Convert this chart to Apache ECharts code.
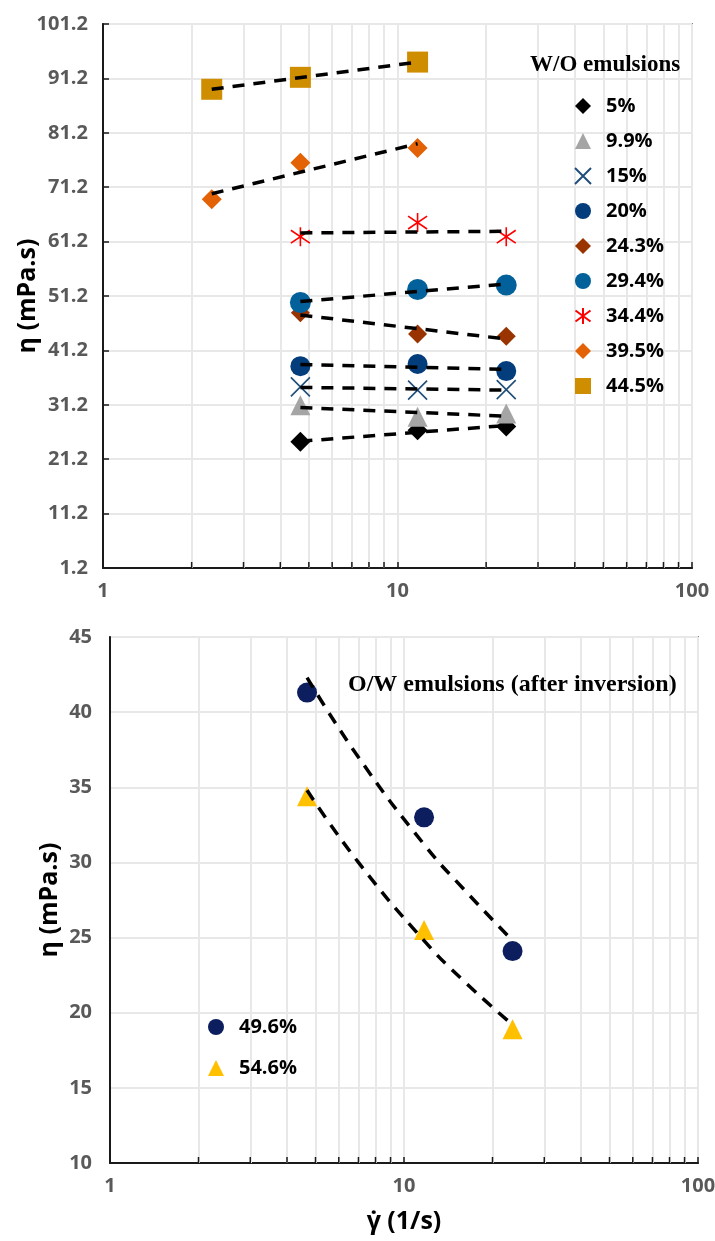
<!DOCTYPE html>
<html>
<head>
<meta charset="utf-8">
<script src="https://cdn.jsdelivr.net/npm/echarts@6/dist/echarts.min.js"></script>
<style>
  html, body { margin: 0; padding: 0; background: #fff; }
  #chart { width: 715px; height: 1241px; }
</style>
</head>
<body>
<div id="chart"></div>
<script>
// shear rates (1/s)
var rateLow = [2.34, 4.68, 11.7];
var rateHigh = [4.68, 11.7, 23.4];

// W/O emulsions, viscosity (mPa.s)
var eta5 = [24.4, 26.5, 27.2];
var eta99 = [31.1, 29.0, 29.6];
var eta15 = [34.5, 33.9, 34.0];
var eta20 = [38.3, 38.7, 37.4];
var eta243 = [48.1, 44.2, 43.8];
var eta294 = [50.0, 52.4, 53.2];
var eta344 = [62.1, 64.7, 62.1];
var eta395 = [69.0, 75.7, 78.4];
var eta445 = [89.2, 91.4, 94.2];

// dashed trend lines, value at first and last rate
var trend5 = [24.5, 27.4];
var trend99 = [30.7, 29.1];
var trend15 = [34.4, 33.9];
var trend20 = [38.6, 37.7];
var trend243 = [47.7, 43.3];
var trend294 = [50.2, 53.4];
var trend344 = [62.8, 63.1];
var trend395 = [70.0, 79.2];
var trend445 = [89.2, 94.2];

// O/W emulsions (after inversion)
var eta496 = [41.3, 33.0, 24.1];
var eta546 = [34.4, 25.5, 18.9];
var trendRate = [4.68, 7, 11.7, 16, 23.4];
var trend496 = [42.3, 37.0, 31.2, 28.2, 24.8];
var trend546 = [34.8, 30.0, 24.8, 22.1, 19.2];

// minor log ticks
var minorTicks = [2, 3, 4, 5, 6, 7, 8, 9, 20, 30, 40, 50, 60, 70, 80, 90];

var topNames = ['5%', '9.9%', '15%', '20%', '24.3%', '29.4%', '34.4%', '39.5%', '44.5%'];
var botNames = ['49.6%', '54.6%'];

function pairs(xs, ys) {
    return xs.map(function (x, i) { return [x, ys[i]]; });
}
function ends(xs, t) {
    return [[xs[0], t[0]], [xs[xs.length - 1], t[1]]];
}

var labelFont = { fontFamily: 'Open Sans', fontWeight: 'bold', fontSize: 20, color: '#595959' };
var nameFont = { fontFamily: 'Open Sans', fontWeight: 'bold', fontSize: 25, color: '#000' };
var gridLine = { color: '#e8e8e8', width: 2 };

function xAxisFor(idx, withName) {
    return {
        type: 'log', logBase: 10, min: 1, max: 100, gridIndex: idx,
        name: withName ? 'γ̇ (1/s)' : '',
        nameLocation: 'middle', nameGap: 46, nameTextStyle: nameFont,
        axisLine: { onZero: false, lineStyle: { color: '#1a1a1a', width: 2 } },
        axisTick: { inside: true, length: 6, lineStyle: { color: '#1a1a1a', width: 1.5 } },
        axisLabel: Object.assign({ margin: 13 }, labelFont),
        splitLine: { show: true, lineStyle: gridLine }
    };
}

function scatter(name, xs, ys, symbol, size, color, xi) {
    return {
        name: name, type: 'scatter', xAxisIndex: xi, yAxisIndex: xi,
        data: pairs(xs, ys), symbol: symbol, symbolSize: size, z: 3,
        itemStyle: { color: color, opacity: 1 }
    };
}
function cross(name, xs, ys, path, color) {
    return {
        name: name, type: 'scatter', xAxisIndex: 0, yAxisIndex: 0,
        data: pairs(xs, ys), symbol: path, symbolSize: 19, z: 3,
        itemStyle: { color: 'rgba(0,0,0,0)', borderColor: color, borderWidth: 1.6, opacity: 1 }
    };
}
function trend(data, xi, smooth) {
    return {
        type: 'line', xAxisIndex: xi, yAxisIndex: xi, data: data, smooth: smooth,
        symbol: 'none', silent: true, z: 4,
        lineStyle: { color: '#000', width: 3.5, type: [12, 9] }
    };
}
function minorGrid(xi, yMin) {
    return {
        type: 'scatter', xAxisIndex: xi, yAxisIndex: xi, silent: true, clip: false,
        symbol: 'rect', symbolSize: [1.5, 6], symbolOffset: [0, -3], z: 5,
        itemStyle: { color: '#1a1a1a', opacity: 1 },
        data: minorTicks.map(function (v) { return [v, yMin]; }),
        markLine: {
            silent: true, symbol: 'none', label: { show: false }, z: 1,
            lineStyle: { color: '#e8e8e8', width: 2, type: 'solid' },
            data: minorTicks.map(function (v) { return { xAxis: v }; })
        }
    };
}

var xPath = 'path://M0,0L10,10M10,0L0,10';
var starPath = 'path://M5,0L5,10M0.3,1.6L9.7,8.4M0.3,8.4L9.7,1.6';

var chart = echarts.init(document.getElementById('chart'));

var option = {
    animation: false,
    backgroundColor: '#fff',
    title: [
        { text: 'W/O emulsions', left: 525, top: 49,
          textStyle: { fontFamily: 'Liberation Serif', fontWeight: 'bold', fontSize: 23, color: '#000' } },
        { text: 'O/W emulsions (after inversion)', left: 343, top: 668,
          textStyle: { fontFamily: 'Liberation Serif', fontWeight: 'bold', fontSize: 24, color: '#000' } }
    ],
    legend: [
        { data: topNames, orient: 'vertical', left: 569, top: 91, itemWidth: 16, itemHeight: 16,
          itemGap: 15, textStyle: { fontFamily: 'Open Sans', fontWeight: 'bold', fontSize: 20,
          color: '#000', lineHeight: 20, padding: [0, 0, 0, 10] } },
        { data: botNames, orient: 'vertical', left: 203, top: 1012, itemWidth: 16, itemHeight: 16,
          itemGap: 21, textStyle: { fontFamily: 'Open Sans', fontWeight: 'bold', fontSize: 20,
          color: '#000', lineHeight: 20, padding: [0, 0, 0, 10] } }
    ],
    grid: [
        { left: 103, top: 24, width: 589, height: 544, show: true, borderColor: '#222', borderWidth: 1.5,
          containLabel: false, outerBoundsMode: 'none' },
        { left: 110, top: 637, width: 588, height: 526, show: true, borderColor: '#222', borderWidth: 1.5,
          containLabel: false, outerBoundsMode: 'none' }
    ],
    xAxis: [xAxisFor(0, false), xAxisFor(1, true)],
    yAxis: [
        {
            type: 'value', gridIndex: 0, min: 1.2, max: 101.2, interval: 10,
            name: 'η (mPa.s)', nameLocation: 'middle', nameGap: 63, nameMoveOverlap: false,
            nameTextStyle: nameFont,
            axisLine: { show: true, lineStyle: { color: '#1a1a1a', width: 2 } },
            axisTick: { show: true, inside: true, length: 6, lineStyle: { color: '#1a1a1a', width: 1.5 } },
            axisLabel: Object.assign({ margin: 15, formatter: function (v) { return v.toFixed(1); } }, labelFont),
            splitLine: { show: true, lineStyle: gridLine }
        },
        {
            type: 'value', gridIndex: 1, min: 10, max: 45, interval: 5,
            name: 'η (mPa.s)', nameLocation: 'middle', nameGap: 48, nameMoveOverlap: false,
            nameTextStyle: nameFont,
            axisLine: { show: true, lineStyle: { color: '#1a1a1a', width: 2 } },
            axisTick: { show: false },
            axisLabel: Object.assign({ margin: 18 }, labelFont),
            splitLine: { show: true, lineStyle: gridLine }
        }
    ],
    series: [
        minorGrid(0, 1.2),
        minorGrid(1, 10),
        trend(ends(rateHigh, trend5), 0, false),
        trend(ends(rateHigh, trend99), 0, false),
        trend(ends(rateHigh, trend15), 0, false),
        trend(ends(rateHigh, trend20), 0, false),
        trend(ends(rateHigh, trend243), 0, false),
        trend(ends(rateHigh, trend294), 0, false),
        trend(ends(rateHigh, trend344), 0, false),
        trend(ends(rateLow, trend395), 0, false),
        trend(ends(rateLow, trend445), 0, false),
        scatter('5%', rateHigh, eta5, 'diamond', 20, '#000000', 0),
        scatter('9.9%', rateHigh, eta99, 'triangle', 20, '#a5a5a5', 0),
        cross('15%', rateHigh, eta15, xPath, '#1f4e79'),
        scatter('20%', rateHigh, eta20, 'circle', 20, '#033d7c', 0),
        scatter('24.3%', rateHigh, eta243, 'diamond', 19, '#993300', 0),
        scatter('29.4%', rateHigh, eta294, 'circle', 21, '#02609a', 0),
        cross('34.4%', rateHigh, eta344, starPath, '#ff0000'),
        scatter('39.5%', rateLow, eta395, 'diamond', 20, '#e26205', 0),
        scatter('44.5%', rateLow, eta445, 'rect', 21, '#cf8d00', 0),
        trend(pairs(trendRate, trend496), 1, true),
        trend(pairs(trendRate, trend546), 1, true),
        scatter('49.6%', rateHigh, eta496, 'circle', 20, '#0c1e5e', 1),
        scatter('54.6%', rateHigh, eta546, 'triangle', 20, '#ffc000', 1)
    ]
};

chart.setOption(option);
</script>
</body>
</html>
